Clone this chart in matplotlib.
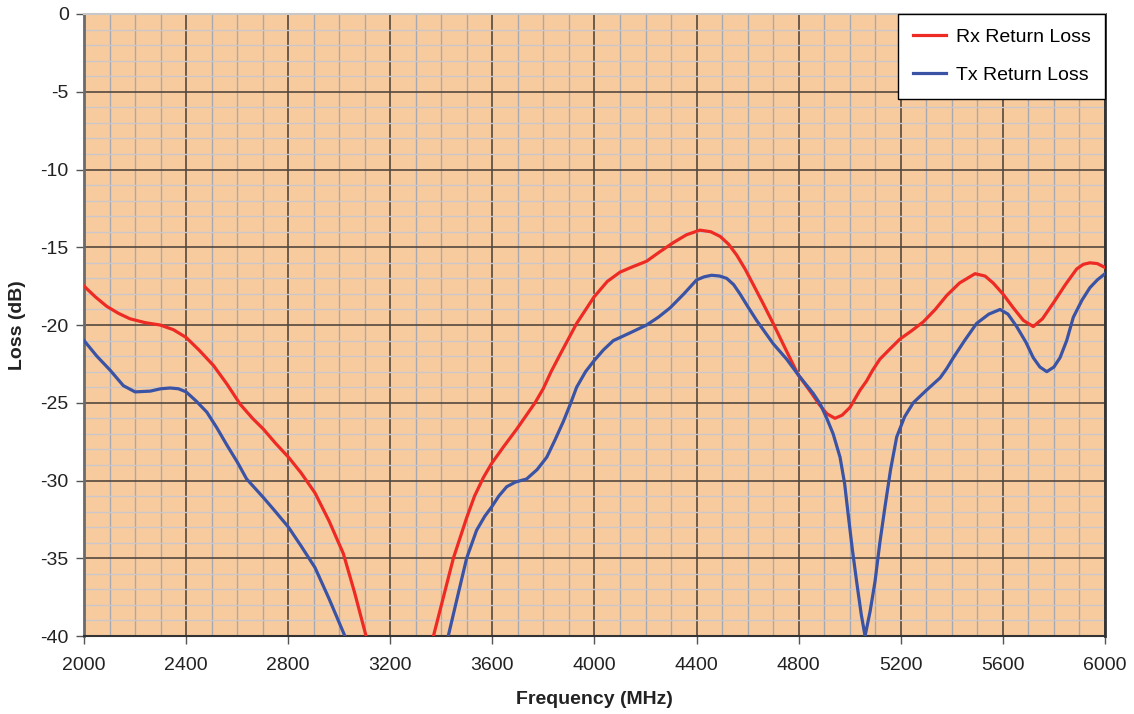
import matplotlib
matplotlib.use("Agg")
import matplotlib.pyplot as plt
from matplotlib.ticker import MultipleLocator

plt.rcParams['font.family'] = ['Liberation Sans', 'DejaVu Sans']
plt.rcParams['axes.unicode_minus'] = False

# Rx Return Loss (values below -40 run off the bottom of the axes)
rx_freq = [2000, 2045, 2089, 2135, 2180, 2240, 2298, 2350, 2400, 2450, 2507, 2560, 2612, 2660,
           2703, 2750, 2801, 2850, 2905, 2960, 3016, 3060, 3105, 3125,
           3350, 3369, 3408, 3447, 3499, 3530, 3565, 3597, 3645, 3695, 3767, 3799, 3830, 3865,
           3930, 3998, 4050, 4100, 4150, 4204, 4255, 4309, 4360, 4413, 4455, 4492, 4525, 4557,
           4590, 4622, 4660, 4700, 4753, 4798, 4851, 4880, 4910, 4942, 4970, 5001, 5040, 5066,
           5090, 5118, 5160, 5197, 5240, 5288, 5335, 5380, 5430, 5491, 5530, 5562, 5600, 5641,
           5680, 5719, 5755, 5797, 5845, 5889, 5915, 5941, 5970, 6000]
rx_loss = [-17.5, -18.2, -18.8, -19.25, -19.6, -19.85, -20.0, -20.3, -20.8, -21.6, -22.6, -23.8, -25.1, -26.0,
           -26.7, -27.6, -28.5, -29.5, -30.8, -32.6, -34.7, -37.2, -40.0, -41.5,
           -41.5, -40.0, -37.5, -35.0, -32.4, -31.0, -29.8, -28.9, -27.8, -26.7, -25.0, -24.1, -23.0, -21.9,
           -19.9, -18.2, -17.2, -16.6, -16.25, -15.9, -15.3, -14.7, -14.2, -13.9, -14.0, -14.3, -14.8, -15.5,
           -16.4, -17.4, -18.6, -19.9, -21.7, -23.2, -24.4, -25.1, -25.7, -26.0, -25.8, -25.3, -24.2, -23.6,
           -22.9, -22.2, -21.5, -20.9, -20.4, -19.8, -19.0, -18.1, -17.3, -16.7, -16.85, -17.3, -18.0, -18.9,
           -19.7, -20.1, -19.6, -18.6, -17.4, -16.4, -16.1, -16.0, -16.05, -16.3]

# Tx Return Loss
tx_freq = [2000, 2050, 2102, 2154, 2200, 2260, 2300, 2337, 2370, 2400, 2440, 2481, 2520, 2559,
           2600, 2637, 2670, 2703, 2750, 2801, 2850, 2905, 2960, 3022, 3040,
           3410, 3427, 3460, 3499, 3538, 3570, 3597, 3625, 3656, 3690, 3734, 3775, 3813, 3845,
           3878, 3905, 3930, 3965, 3998, 4035, 4074, 4140, 4204, 4250, 4296, 4350, 4400, 4430,
           4459, 4490, 4518, 4545, 4570, 4600, 4635, 4700, 4753, 4798, 4857, 4885, 4910, 4935,
           4962, 4980, 4994, 5010, 5027, 5045, 5060, 5080, 5099, 5118, 5138, 5160, 5184, 5215,
           5249, 5300, 5354, 5380, 5406, 5450, 5497, 5545, 5589, 5620, 5654, 5690, 5719, 5745,
           5772, 5800, 5824, 5850, 5876, 5910, 5941, 5970, 6000]
tx_loss = [-21.0, -22.0, -22.9, -23.9, -24.3, -24.25, -24.1, -24.05, -24.1, -24.3, -24.9, -25.6, -26.6, -27.7,
           -28.8, -29.9, -30.5, -31.1, -32.0, -33.0, -34.2, -35.6, -37.6, -40.0, -41.5,
           -41.5, -40.0, -37.7, -35.0, -33.2, -32.3, -31.7, -31.0, -30.4, -30.1, -29.9, -29.3, -28.5, -27.4,
           -26.2, -25.1, -24.0, -23.0, -22.3, -21.6, -21.0, -20.5, -20.0, -19.5, -18.9, -18.0, -17.1, -16.9,
           -16.8, -16.85, -17.0, -17.4, -18.0, -18.8, -19.7, -21.2, -22.2, -23.2, -24.4, -25.1, -26.0, -27.0,
           -28.5, -30.2, -32.2, -34.4, -36.5, -38.6, -40.0, -38.4, -36.5, -34.0, -31.7, -29.3, -27.2, -25.9,
           -25.0, -24.2, -23.4, -22.8, -22.1, -21.0, -19.9, -19.3, -19.0, -19.3, -20.1, -21.1, -22.1, -22.7,
           -23.0, -22.7, -22.1, -21.0, -19.5, -18.4, -17.6, -17.1, -16.7]

x_ticks = [2000, 2400, 2800, 3200, 3600, 4000, 4400, 4800, 5200, 5600, 6000]
y_ticks = [0, -5, -10, -15, -20, -25, -30, -35, -40]

fig = plt.figure(figsize=(11.34, 7.14), dpi=100)
ax = fig.add_axes([0.0741, 0.1092, 0.9003, 0.8712])
ax.set_facecolor('#F8CB9E')

ax.set_xlim(2000, 6000)
ax.set_ylim(-40, 0)
ax.set_xticks(x_ticks)
ax.set_yticks(y_ticks)
ax.xaxis.set_minor_locator(MultipleLocator(100))
ax.yaxis.set_minor_locator(MultipleLocator(1))

ax.grid(which='minor', axis='x', color='#A8A8B0', linewidth=1.0)
ax.grid(which='minor', axis='y', color='#CCC6C8', linewidth=1.0)
ax.grid(which='major', color='#54483E', linewidth=1.2)
ax.set_axisbelow(True)

l1, = ax.plot(rx_freq, rx_loss, color='#EE2A24', linewidth=2.3, label='Rx Return Loss',
              zorder=3, solid_joinstyle='round')
l2, = ax.plot(tx_freq, tx_loss, color='#3A53A4', linewidth=2.3, label='Tx Return Loss',
              zorder=3, solid_joinstyle='round')

ax.spines['left'].set_color('#6a6a6a'); ax.spines['left'].set_linewidth(2.0)
ax.spines['bottom'].set_color('#333333'); ax.spines['bottom'].set_linewidth(1.5)
ax.spines['right'].set_color('#333333'); ax.spines['right'].set_linewidth(2.0)
ax.spines['top'].set_color('#C8C8C8'); ax.spines['top'].set_linewidth(1.5)

ax.tick_params(which='major', direction='out', length=6, width=1, color='#555555',
               labelsize=14, labelcolor='#222222', pad=5)
ax.tick_params(which='minor', length=0)
ax.tick_params(axis='x', pad=9)

ax.set_xlabel('Frequency (MHz)', fontsize=14, fontweight='bold', color='#222222', labelpad=12)
ax.set_ylabel('Loss (dB)', fontsize=14, fontweight='bold', color='#222222', labelpad=10)

leg = ax.legend(handles=[l1, l2], loc='upper right', borderaxespad=0, fancybox=False,
                framealpha=1, edgecolor='black', fontsize=14, handlelength=1.7,
                labelspacing=1.05, borderpad=0.75, handletextpad=0.5)
leg.get_frame().set_linewidth(1.0)
leg.set_zorder(5)

fig.savefig('out.png', dpi=100)
